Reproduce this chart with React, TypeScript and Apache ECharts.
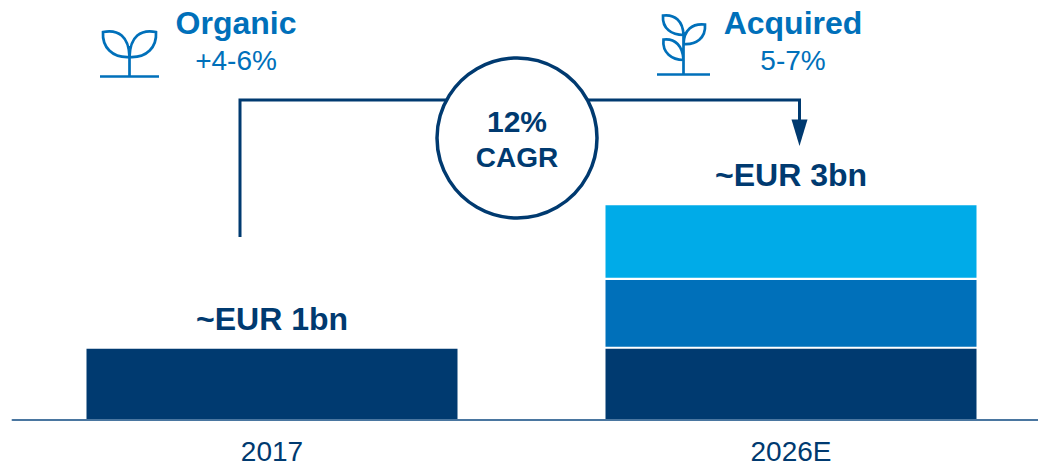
import React, { useEffect, useRef } from "react";
import * as echarts from "echarts";

const categories = ["2017", "2026E"];
const base = [1.012, 1.012];
const gapOne = [null, 0.03];
const middle = [null, 0.954];
const gapTwo = [null, 0.03];
const top = [null, 1.04];
const totals = [1.012, 3.066];
const totalLabels = ["~EUR 1bn", "~EUR 3bn"];

const DARK = "#003A70";
const MID = "#0070BA";
const LIGHT = "#00ABE8";
const FONT = "'Liberation Sans', Arial, sans-serif";

const organicIcon =
  "M100 76.5H159M129.5 76.5V46M103 32C118 29 129 36 129.5 57C112 58 102 47 103 32ZM156 32C141 29 130 36 129.5 57C147 58 157 47 156 32Z";
const acquiredIcon =
  "M657 74.5H710M683.5 74.5V32M663 15.5C675 14 683 21 683.5 35C672 35 662 29 663 15.5ZM705 24.5C692 23 684 30 683.5 44C696 45 706 38 705 24.5ZM663.5 39.5C675 38 683 46 683.5 60C672 60 662 53 663.5 39.5Z";

echarts.graphic.registerShape("organicIcon", echarts.graphic.extendPath(organicIcon, {}));
echarts.graphic.registerShape("acquiredIcon", echarts.graphic.extendPath(acquiredIcon, {}));

const txt = (text: string, x: number, y: number, size: number, weight: string, fill: string) => ({
  type: "text",
  x,
  y,
  z: 20,
  style: { text, fill, align: "center", verticalAlign: "middle", fontFamily: FONT, fontSize: size, fontWeight: weight },
});

export default function App() {
  const ref = useRef<HTMLDivElement>(null);
  useEffect(() => {
    const chart = echarts.init(ref.current!, undefined, { renderer: "svg" });
    const bar = (name: string, data: (number | null)[], color: string) => ({
      name,
      type: "bar",
      stack: "total",
      data,
      barWidth: 371,
      itemStyle: { color },
    });
    chart.setOption({
      animation: false,
      grid: { left: 12.5, top: 0, right: -12.5, bottom: 46.5, outerBoundsMode: "none" },
      xAxis: {
        type: "category",
        data: categories,
        z: 5,
        axisLine: { lineStyle: { color: "#4A76A0", width: 2 } },
        axisTick: { show: false },
        axisLabel: { color: DARK, fontFamily: FONT, fontSize: 28, lineHeight: 24, margin: 20 },
      },
      yAxis: { type: "value", min: 0, max: 6, show: false, splitLine: { show: false } },
      series: [
        bar("Base", base, DARK),
        bar("Gap 1", gapOne, "transparent"),
        bar("Organic", middle, MID),
        bar("Gap 2", gapTwo, "transparent"),
        bar("Acquired", top, LIGHT),
        {
          name: "Total",
          type: "scatter",
          data: totals,
          symbolSize: 1,
          itemStyle: { color: "transparent", opacity: 1 },
          label: {
            show: true,
            position: "top",
            distance: 13.5,
            color: DARK,
            fontFamily: FONT,
            fontSize: 32,
            fontWeight: "bold",
            formatter: (p: any) => totalLabels[p.dataIndex],
          },
        },
      ],
      graphic: [
        { type: "polyline", z: 10, shape: { points: [[240, 237], [240, 100], [799.5, 100], [799.5, 122]] }, style: { stroke: DARK, lineWidth: 3, fill: "none" } },
        { type: "polygon", z: 10, shape: { points: [[791.5, 119.5], [807.5, 119.5], [799.5, 146]] }, style: { fill: DARK } },
        { type: "circle", z: 11, shape: { cx: 517, cy: 138, r: 80 }, style: { fill: "#fff", stroke: DARK, lineWidth: 3.5 } },
        txt("12%", 517, 121.5, 30, "bold", DARK),
        txt("CAGR", 517, 157, 28, "bold", DARK),
        { type: "organicIcon", z: 10, style: { fill: "none", stroke: MID, lineWidth: 2.7 } },
        { type: "acquiredIcon", z: 10, style: { fill: "none", stroke: MID, lineWidth: 2.7 } },
        txt("Organic", 236, 23, 32, "bold", MID),
        txt("+4-6%", 236, 60, 28, "normal", MID),
        txt("Acquired", 793, 23, 32, "bold", MID),
        txt("5-7%", 793, 60, 28, "normal", MID),
      ],
    });
    return () => chart.dispose();
  }, []);
  return <div ref={ref} style={{ position: "fixed", left: 0, top: 0, width: 1038, height: 466, background: "#fff" }} />;
}
